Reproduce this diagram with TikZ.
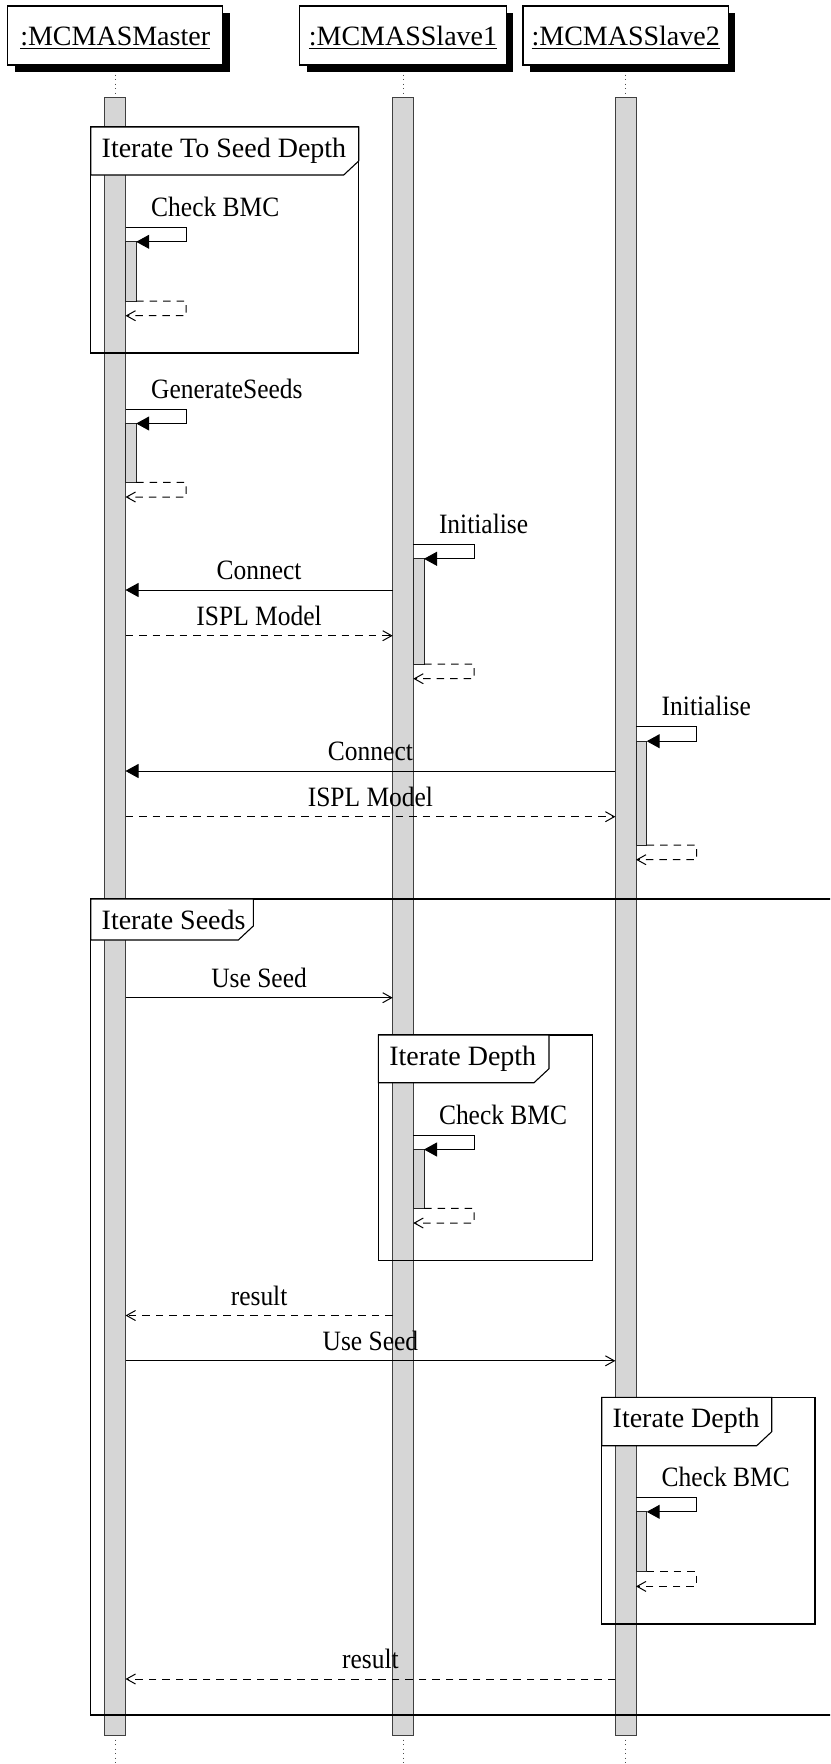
\documentclass[tikz,border=0pt]{standalone}
\usepackage{fontspec}
\setmainfont{Liberation Serif}
\newfontfamily\msgfont[FakeStretch=0.91]{Liberation Serif}
\usetikzlibrary{arrows.meta,shadows,calc}

\tikzset{
  hdrbox/.style={draw=black, line width=1.1pt, fill=white, outer sep=0pt, inner sep=0pt, minimum height=59pt,
     drop shadow={shadow xshift=7pt, shadow yshift=-7pt, fill=black, opacity=1}},
  hdrtxt/.style={inner sep=0pt, outer sep=0pt, anchor=base, font=\fontsize{28}{33}\selectfont},
  uline/.style={line width=1.4pt},
  lifeline/.style={draw=black!70, line width=0.9pt, dash pattern=on 1.2pt off 3.3pt},
  actbar/.style={draw=black!75, line width=0.9pt, fill=black!16, outer sep=0pt, inner sep=0pt, minimum width=20.6pt, anchor=north},
  nestbar/.style={draw=black!85, line width=0.9pt, fill=black!16, outer sep=0pt, inner sep=0pt, minimum width=10.7pt, anchor=north west},
  frm/.style={draw=black, line width=1.1pt, outer sep=0pt, inner sep=0pt, anchor=north west},
  frmlbl/.style={draw=black, line width=1.1pt, fill=white},
  frmtxt/.style={inner sep=0pt, outer sep=0pt, anchor=base west, font=\fontsize{28}{33}\selectfont},
  msgtxt/.style={inner sep=0pt, outer sep=0pt, anchor=base, font=\msgfont\fontsize{28}{33}\selectfont},
  callmsg/.style={draw=black, line width=1pt, -{Triangle[length=13pt,width=14pt]}},
  plainmsg/.style={draw=black, line width=1pt, -{Straight Barb[length=9pt,width=10pt]}},
  retmsg/.style={draw=black, line width=1pt, dash pattern=on 7.5pt off 6pt, -{Straight Barb[length=9pt,width=10pt]}},
}

% self call: #1 id, #2 bar centre x, #3 top y, #4 bottom y, #5 label
\newcommand{\selfcall}[5]{%
  \coordinate (#1s) at ({#2+10.3},#3);
  \coordinate (#1r) at ({#2+71},#3);
  \coordinate (#1q) at ({#2+71},{#3+14.5});
  \node[nestbar, minimum height={#4-#3-14.5}] (#1n) at ({#2+10.3},{#3+14.5}) {};
  \coordinate (#1u) at ({#2+71},#4);
  \coordinate (#1v) at ({#2+71},{#4+14.7});
  \coordinate (#1w) at ({#2+10.3},{#4+14.7});
  \draw[callmsg] (#1s) -- (#1r) -- (#1q) -- (#1n.north east);
  \draw[retmsg] (#1n.south east) -- (#1u) -- (#1v) -- (#1w);
  \node[msgtxt, anchor=base west] (#1t) at ({#2+36},{#3-11}) {#5};
}

% frame: #1 id, #2 x1, #3 y1, #4 x2, #5 y2, #6 label bottom, #7 label right, #8 text
\newcommand{\sdframe}[8]{%
  \node[frm, minimum width={#4-#2}, minimum height={#5-#3}] (#1) at (#2,#3) {};
  \draw[frmlbl] (#1.north west) -- (#7,#3) -- (#7,{#6-14}) -- ({#7-15},#6) -- (#2,#6) -- cycle;
  \node[frmtxt] (#1t) at ({#2+11},{#3+30.5}) {#8};
}

\begin{document}
\begin{tikzpicture}[x=1pt,y=-1pt]
\useasboundingbox (0,0) rectangle (830,1764);
\clip (0,0) rectangle (830,1764);

% lifelines (dotted)
\coordinate (mend) at (115.2,1764);
\coordinate (s1end) at (403,1764);
\coordinate (s2end) at (625.7,1764);
\coordinate (mtop) at (115.2,70);
\coordinate (s1top) at (403,70);
\coordinate (s2top) at (625.7,70);
\draw[lifeline] (mtop) -- (mend);
\draw[lifeline] (s1top) -- (s1end);
\draw[lifeline] (s2top) -- (s2end);

% headers
\node[hdrbox, minimum width=215pt] (mh) at (115.2,35.5) {};
\node[hdrbox, minimum width=206.7pt] (s1h) at (403,35.5) {};
\node[hdrbox, minimum width=205.4pt] (s2h) at (625.7,35.5) {};
\node[hdrtxt] (mt) at (115.2,45) {:MCMASMaster};
\node[hdrtxt] (s1t) at (403,45) {:MCMASSlave1};
\node[hdrtxt] (s2t) at (625.7,45) {:MCMASSlave2};
\draw[uline] ([yshift=-3.5pt]mt.base west) -- ([yshift=-3.5pt]mt.base east);
\draw[uline] ([yshift=-3.5pt]s1t.base west) -- ([yshift=-3.5pt]s1t.base east);
\draw[uline] ([yshift=-3.5pt]s2t.base west) -- ([yshift=-3.5pt]s2t.base east);

% activation bars
\node[actbar, minimum height=1638pt] (mb) at (115.2,97) {};
\node[actbar, minimum height=1638pt] (s1b) at (403,97) {};
\node[actbar, minimum height=1638pt] (s2b) at (625.7,97) {};

% frames
\sdframe{fa}{90.7}{127}{358.7}{353}{175}{358.7}{Iterate To Seed Depth}
\sdframe{fb}{90.7}{899}{900}{1715}{940}{253.3}{Iterate Seeds}
\sdframe{fc}{378.3}{1035}{592.3}{1260.7}{1082.7}{549}{Iterate Depth}
\sdframe{fd}{601.7}{1397.3}{815}{1624}{1445.7}{771.7}{Iterate Depth}

% self calls
\selfcall{cb1}{115.2}{227.3}{301}{Check BMC}
\selfcall{gs}{115.2}{409}{482.3}{GenerateSeeds}
\selfcall{ina}{403}{544.3}{664}{Initialise}
\selfcall{inb}{625.7}{726.7}{845}{Initialise}
\selfcall{cb2}{403}{1135}{1208.3}{Check BMC}
\selfcall{cb3}{625.7}{1497.3}{1571.7}{Check BMC}

% messages
\draw[callmsg] (s1b.west |- 0,590) -- (mb.east |- 0,590) node[msgtxt, midway, yshift=10.5pt] (l1) {Connect};
\draw[retmsg] (mb.east |- 0,635.7) -- (s1b.west |- 0,635.7) node[msgtxt, midway, yshift=10.5pt] (l2) {ISPL Model};
\draw[callmsg] (s2b.west |- 0,771) -- (mb.east |- 0,771) node[msgtxt, midway, yshift=10.5pt] (l3) {Connect};
\draw[retmsg] (mb.east |- 0,816.7) -- (s2b.west |- 0,816.7) node[msgtxt, midway, yshift=10.5pt] (l4) {ISPL Model};
\draw[plainmsg] (mb.east |- 0,997.7) -- (s1b.west |- 0,997.7) node[msgtxt, midway, yshift=10.5pt] (l5) {Use Seed};
\draw[retmsg] (s1b.west |- 0,1315.5) -- (mb.east |- 0,1315.5) node[msgtxt, midway, yshift=10.5pt] (l6) {result};
\draw[plainmsg] (mb.east |- 0,1360.8) -- (s2b.west |- 0,1360.8) node[msgtxt, midway, yshift=10.5pt] (l7) {Use Seed};
\draw[retmsg] (s2b.west |- 0,1679) -- (mb.east |- 0,1679) node[msgtxt, midway, yshift=10.5pt] (l8) {result};
\end{tikzpicture}
\end{document}
